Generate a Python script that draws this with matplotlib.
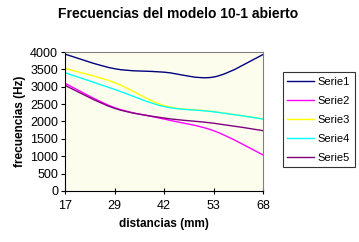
import numpy as np
import matplotlib.pyplot as plt
from matplotlib.path import Path
from matplotlib.patches import PathPatch
from matplotlib.lines import Line2D

plt.rcParams['font.family'] = ['Liberation Sans', 'DejaVu Sans']

distancias = ['17', '29', '42', '53', '68']
serie1 = [3940, 3520, 3420, 3280, 3930]
serie2 = [3100, 2400, 2070, 1735, 1035]
serie3 = [3530, 3120, 2460, 2285, 2075]
serie4 = [3405, 2925, 2430, 2280, 2070]
serie5 = [3040, 2380, 2100, 1950, 1735]
nombres = ['Serie1', 'Serie2', 'Serie3', 'Serie4', 'Serie5']
colores = ['#000080', '#FF00FF', '#FFFF00', '#00FFFF', '#800080']


def smooth_path(xs, ys):
    # bezier segments like excel's "smoothed line"
    p = np.column_stack([xs, ys]).astype(float)
    n = len(p)
    verts = [p[0]]
    codes = [Path.MOVETO]
    for i in range(n - 1):
        p0 = p[max(i - 1, 0)]
        p1 = p[i]
        p2 = p[i + 1]
        p3 = p[min(i + 2, n - 1)]
        c1 = p1 + (p2 - p0) / 6.0
        c2 = p2 - (p3 - p1) / 6.0
        verts += [c1, c2, p2]
        codes += [Path.CURVE4] * 3
    return Path(verts, codes)


fig = plt.figure(figsize=(3.59, 2.42), dpi=100)
ax = fig.add_axes([0.181, 0.211, 0.552, 0.574])
ax.set_facecolor('#FDFDEE')

x = np.arange(len(distancias))
datos = [serie1, serie2, serie3, serie4, serie5]
handles = []
for ys, c, nm in zip(datos, colores, nombres):
    ax.add_patch(PathPatch(smooth_path(x, ys), facecolor='none',
                           edgecolor=c, lw=1.0))
    handles.append(Line2D([], [], color=c, lw=1.0, label=nm))

ax.set_xlim(0, 4)
ax.set_ylim(0, 4000)
ax.set_xticks(x)
ax.set_xticklabels(distancias)
ax.set_yticks(range(0, 4001, 500))
ax.tick_params(axis='both', labelsize=9, length=3, width=0.8, pad=2)
ax.tick_params(axis='x', direction='inout', length=5, pad=4)

for s in ['top', 'right']:
    ax.spines[s].set_color('#808080')
    ax.spines[s].set_linewidth(0.8)
for s in ['left', 'bottom']:
    ax.spines[s].set_color('black')
    ax.spines[s].set_linewidth(0.8)

ax.set_xlabel('distancias (mm)', fontsize=8.5, fontweight='bold', labelpad=4)
ax.set_ylabel('frecuencias (Hz)', fontsize=8.5, fontweight='bold', labelpad=3)
fig.suptitle('Frecuencias del modelo 10-1 abierto', fontsize=10,
             fontweight='bold', x=0.495, y=0.97)

leg = fig.legend(handles=handles, loc='upper left',
                 bbox_to_anchor=(0.788, 0.702), fontsize=8,
                 frameon=True, fancybox=False, handlelength=2.4,
                 handletextpad=0.35, labelspacing=0.82, borderpad=0.4,
                 borderaxespad=0)
leg.get_frame().set_edgecolor('black')
leg.get_frame().set_linewidth(0.8)

fig.savefig('out.png', dpi=100)
